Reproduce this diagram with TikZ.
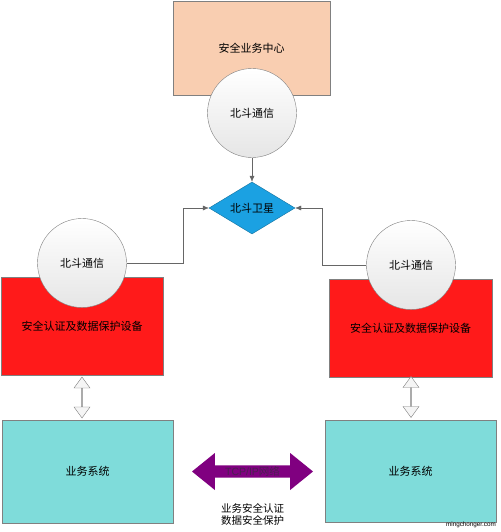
\documentclass[tikz,border=0pt]{standalone}
\usepackage{fontspec}
\newfontfamily\cjk{Noto Sans CJK SC}
\setsansfont{Liberation Sans}
\usepackage{xcolor}
\usepackage{tikz}
\usetikzlibrary{
	arrows.meta,
	shapes.geometric,
	shapes.arrows
}
\definecolor{peach}{HTML}{F9CEB1}
\definecolor{satblue}{HTML}{1BA1E2}
\definecolor{devred}{HTML}{FF1A1A}
\definecolor{bizcyan}{HTML}{7FDCDA}
\definecolor{netpurple}{HTML}{800080}
\definecolor{nettext}{HTML}{4A2050}
\definecolor{edgegray}{HTML}{666666}

\begin{document}
\begin{tikzpicture}[x=1pt, y=-1pt,
		box/.style={rectangle, draw=gray, inner sep=0pt, font=\cjk\fontsize{11}{13}\selectfont},
		beidou/.style={circle, draw=gray, top color=white, bottom color=gray!20, minimum size=89pt, inner sep=0pt, font=\cjk\fontsize{11}{13}\selectfont},
		link/.style={draw=edgegray, -{Latex[length=6pt,width=5pt]}},
		hollow/.style={double arrow, draw=gray, fill=gray!8, rotate=90, inner sep=0pt, minimum height=41pt, minimum width=16pt, double arrow head extend=3.5pt, double arrow tip angle=72}
	]
		\useasboundingbox (0,0) rectangle (500,532);
		% 安全业务中心
		\node[box, fill=peach, minimum width=157pt, minimum height=94pt] (center) at (251.5,48) {安全业务中心};
		\node[beidou] (topcomm) at (252,113) {北斗通信};
		% 北斗卫星
		\node[diamond, draw=satblue!70!black, fill=satblue, inner sep=0pt, aspect=1.65, minimum width=86pt, minimum height=52pt, font=\cjk\fontsize{11}{13}\selectfont] (sat) at (252,208) {北斗卫星};
		% 两侧设备
		\node[box, fill=devred, minimum width=162pt, minimum height=98pt] (lsec) at (82,326) {安全认证及数据保护设备};
		\node[beidou] (lcomm) at (82,263) {北斗通信};
		\node[box, fill=devred, minimum width=163pt, minimum height=98pt] (rsec) at (410.5,328) {安全认证及数据保护设备};
		\node[beidou] (rcomm) at (411,265) {北斗通信};
		% 业务系统
		\node[box, fill=bizcyan, minimum width=171pt, minimum height=103pt] (lbiz) at (87.5,471.5) {业务系统};
		\node[box, fill=bizcyan, minimum width=171pt, minimum height=102pt] (rbiz) at (410.5,471) {业务系统};
		% 连线
		\coordinate (lbend) at (183,263);
		\coordinate (rbend) at (322,265);
		\draw[link] (topcomm.south) -- (sat.north);
		\draw[link] (lcomm.east) -- (lbend) |- (sat.west);
		\draw[link] (rcomm.west) -- (rbend) |- (sat.east);
		% 双向箭头
		\node[hollow] (larrow) at (82,397.5) {};
		\node[hollow] (rarrow) at (411,397) {};
		\node[double arrow, fill=netpurple, inner sep=0pt, minimum height=121pt, minimum width=37pt, double arrow head extend=10pt, double arrow tip angle=78, text=nettext, font=\sffamily\fontsize{10.5}{12}\selectfont] (net) at (252.5,471.5) {TCP/IP\cjk 网络};
		\node[align=center, inner sep=0pt, font=\cjk\fontsize{10.5}{12}\selectfont] (nettag) at (252.5,514) {业务安全认证\\数据安全保护};
		\node[inner sep=0pt, font=\sffamily\fontsize{6.3}{7}\selectfont] (mark) at (471,525) {mingchonger.com};
	\end{tikzpicture}
\end{document}
